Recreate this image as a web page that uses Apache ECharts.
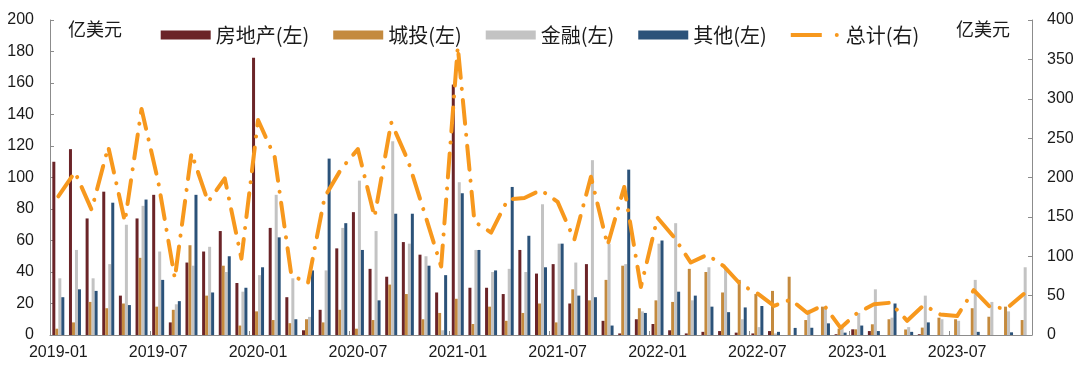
<!DOCTYPE html>
<html>
<head>
<meta charset="utf-8">
<script src="https://cdn.jsdelivr.net/npm/echarts@6/dist/echarts.min.js"></script>
<style>html,body{margin:0;padding:0;background:#fff}#c{width:1080px;height:373px}</style>
</head>
<body>
<div id="c"></div>
<script>
var categories = ['2019-01','2019-02','2019-03','2019-04','2019-05','2019-06','2019-07','2019-08','2019-09','2019-10','2019-11','2019-12',
'2020-01','2020-02','2020-03','2020-04','2020-05','2020-06','2020-07','2020-08','2020-09','2020-10','2020-11','2020-12',
'2021-01','2021-02','2021-03','2021-04','2021-05','2021-06','2021-07','2021-08','2021-09','2021-10','2021-11','2021-12',
'2022-01','2022-02','2022-03','2022-04','2022-05','2022-06','2022-07','2022-08','2022-09','2022-10','2022-11','2022-12',
'2023-01','2023-02','2023-03','2023-04','2023-05','2023-06','2023-07','2023-08','2023-09','2023-10','2023-11'];
var realEstate = [110,118,74,91,25,74,89,8,46,53,66,33,176,68,24,3,16,55,78,42,37,59,51,27,159,30,30,26,54,39,45,20,45,9,1,10,7,3,1,2,2.5,1.5,1,2.5,0,0,0,0.5,3.6,2.5,0,0,0.5,0,0,0,0,0,0];
var lgfv = [4,8,21,17,20,49,18,16,57,25,44,6,15,9.5,7.5,10,8,16,4,9.5,32,26,10,14,23,7,18,9,14,20,8,29,22,35,44,17,22,21,42,40,27,35,26,28,37,9.5,18,4,3.6,6.8,10,3.5,4.7,11,10,17,11.6,18,9.5];
var finance = [36,54,36,45,70,82,53,19.5,44,56,40,27.5,38,89,36,11.5,41,68,98,66,123,58,50,3,97,54,40,42,40,83,58,46,111,58,45,15,58,71,22,43,42,10,5,1,0,16,18,5,14,29,11,5,25,10,9,35,21,15,43];
var others = [24,29,28,84,19,86,35,21.5,89,27,50,30,43,62,10,41,112,71,54,22,77,77,44,38,90,54,41,94,63,43,58,25,24,6,105,14,60,27.5,25,18,14.5,17.5,18.4,2,4.5,4.6,7.4,1.5,6,2.5,20,2,8,0,0,2,0,1.7,0];
var total = [176,207,159,239,144,287,195,72,231,169,199,97,273,226,76,66,175,211,236,150,270,222,155,87,366,144,130,172,174,184,169,121,201,114,188,61,149,124,92,102,87,64,53,37,45,28,38,9,28,39,41,18,38,26,24,57,35,34,52];
var leftTicks = {min:0,max:200,interval:20};
var rightTicks = {min:0,max:400,interval:50};

var FONT = '"Liberation Sans", Arial, "Noto Sans CJK SC", sans-serif';
var CJK = '"Noto Sans CJK SC", "Liberation Sans", sans-serif';
var axisColor = '#8c8c8c';
var lineColor = '#F7981D';
var chart = echarts.init(document.getElementById('c'), null, {renderer:'canvas'});
function bar(name, data, color){
  return {name:name, type:'bar', data:data, yAxisIndex:0, barWidth:3, barGap:'0%',
    itemStyle:{color:color}, emphasis:{disabled:true}};
}
// legend icon for the dash-dot line: long dash + dot, padded to a 50x9 box
var dashDotIcon = 'path://M0,0h0.01v0.01h-0.01z M50,9h0.01v0.01h-0.01z M0,2.5H31V6.5H0z M44,4.5a2,2 0 1,0 4,0a2,2 0 1,0 -4,0z';
chart.setOption({
  animation:false,
  textStyle:{fontFamily:FONT},
  grid:{left:50, right:48, top:20, bottom:38, containLabel:false},
  legend:{
    left:'center', top:20, itemWidth:50, itemHeight:9, itemGap:24, symbolKeepAspect:false,
    textStyle:{fontSize:20, color:'#1a1a1a', fontFamily:CJK},
    data:[{name:'房地产(左)',icon:'rect'},{name:'城投(左)',icon:'rect'},{name:'金融(左)',icon:'rect'},{name:'其他(左)',icon:'rect'},{name:'总计(右)',icon:dashDotIcon}]
  },
  graphic:[
    {type:'text', left:68, top:20, style:{text:'亿美元', font:'18px '+CJK, fill:'#1a1a1a'}},
    {type:'text', left:956, top:20, style:{text:'亿美元', font:'18px '+CJK, fill:'#1a1a1a'}}
  ],
  xAxis:{
    type:'category', data:categories, boundaryGap:true,
    axisLine:{lineStyle:{color:axisColor, width:1}},
    axisTick:{show:true, inside:true, length:4, interval:5, lineStyle:{color:axisColor}},
    axisLabel:{interval:5, fontSize:16, color:'#1a1a1a', margin:10, fontFamily:FONT}
  },
  yAxis:[
    {type:'value', min:leftTicks.min, max:leftTicks.max, interval:leftTicks.interval,
     axisLine:{show:true, lineStyle:{color:axisColor}},
     axisTick:{show:true, inside:true, length:4, lineStyle:{color:axisColor}},
     splitLine:{show:false},
     axisLabel:{fontSize:16, color:'#1a1a1a', margin:16, fontFamily:FONT}},
    {type:'value', min:rightTicks.min, max:rightTicks.max, interval:rightTicks.interval, position:'right',
     axisLine:{show:true, lineStyle:{color:axisColor}},
     axisTick:{show:true, inside:true, length:4, lineStyle:{color:axisColor}},
     splitLine:{show:false},
     axisLabel:{fontSize:16, color:'#1a1a1a', margin:15, fontFamily:FONT}}
  ],
  series:[
    bar('房地产(左)', realEstate, '#6B2428'),
    bar('城投(左)', lgfv, '#C48A3E'),
    bar('金融(左)', finance, '#C3C3C3'),
    bar('其他(左)', others, '#2B5279'),
    {name:'总计(右)', type:'line', yAxisIndex:1, data:total, symbol:'none', z:5,
     itemStyle:{color:lineColor},
     lineStyle:{color:lineColor, width:4, type:[24,11,0.1,11], cap:'round', join:'round'},
     emphasis:{disabled:true}}
  ]
});
</script>
</body>
</html>
